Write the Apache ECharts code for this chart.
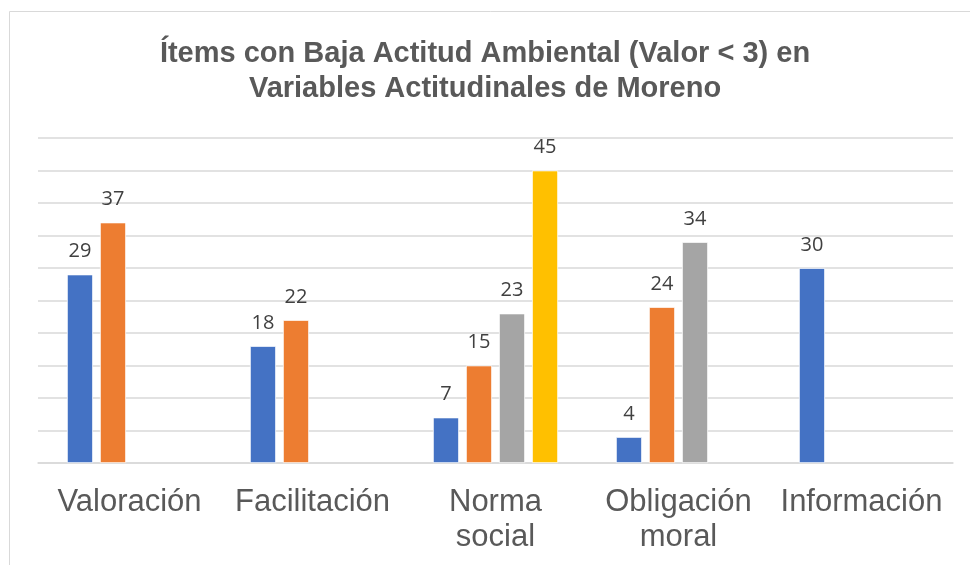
<!DOCTYPE html>
<html><head><meta charset="utf-8">
<script src="https://cdn.jsdelivr.net/npm/echarts@6/dist/echarts.min.js"></script>
<style>html,body{margin:0;padding:0;background:#fff}#c{width:970px;height:565px}</style>
</head><body><div id="c"></div>
<script>
const titleText = 'Ítems con Baja Actitud Ambiental (Valor < 3) en\nVariables Actitudinales de Moreno';
const categories = ['Valoración', 'Facilitación', 'Norma\nsocial', 'Obligación\nmoral', 'Información'];
const serie1 = [29, 18, 7, 4, 30];
const serie2 = [37, 22, 15, 24, null];
const serie3 = [null, null, 23, 34, null];
const serie4 = [null, null, 45, null, null];
const colors = ['#4472C4', '#ED7D31', '#A5A5A5', '#FFC000'];

const chart = echarts.init(document.getElementById('c'), null, {renderer: 'canvas'});
function mk(data, i) {
  return {
    type: 'bar', data: data, barWidth: 26, barGap: '27%',
    itemStyle: {color: colors[i], borderColor: '#fff', borderWidth: 0.75},
    label: {show: true, position: 'top', distance: 13, color: '#404040',
            fontFamily: 'Open Sans', fontSize: 20},
    animation: false
  };
}
chart.setOption({
  animation: false,
  graphic: [{type: 'rect', shape: {x: 9.5, y: 11.5, width: 1000, height: 600},
             style: {fill: 'none', stroke: '#D9D9D9', lineWidth: 1}, z: -1}],
  title: {text: titleText, left: 'center', top: 31,
          textStyle: {fontFamily: 'Liberation Sans', fontWeight: 'bold', fontSize: 29,
                      color: '#595959', lineHeight: 35}},
  grid: {left: 38, right: 17, top: 138, bottom: 102, containLabel: false},
  xAxis: {type: 'category', data: categories,
          axisLine: {lineStyle: {color: '#D9D9D9', width: 1.5}},
          axisTick: {show: false},
          axisLabel: {color: '#595959', fontFamily: 'Liberation Sans', fontSize: 31,
                      lineHeight: 35, margin: 22, interval: 0}},
  yAxis: {type: 'value', min: 0, max: 50, interval: 5,
          axisLabel: {show: false}, axisLine: {show: false}, axisTick: {show: false},
          splitLine: {lineStyle: {color: '#D9D9D9', width: 1.5}}},
  series: [mk(serie1, 0), mk(serie2, 1), mk(serie3, 2), mk(serie4, 3)]
});
</script></body></html>
